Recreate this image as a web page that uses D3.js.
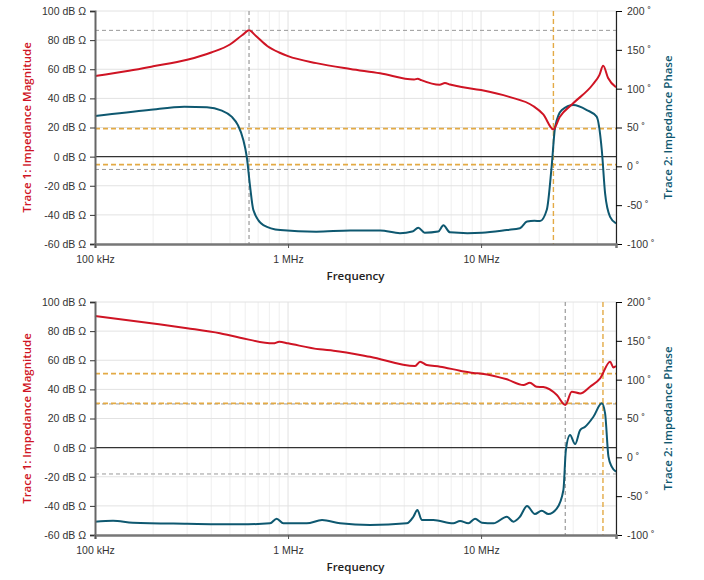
<!DOCTYPE html>
<html lang="en">
<head>
<meta charset="UTF-8">
<title>Impedance plots</title>
<script src="https://cdn.jsdelivr.net/npm/d3@7"></script>
<style>
  body { margin: 0; background: #fff; }
  svg { font-family: "Open Sans", "Noto Sans", sans-serif; }
  .tick text { font-size: 10.5px; fill: #333; }
  .grid line { stroke: #e2e2e2; }
  .grid .minor { stroke: #efefef; }
</style>
</head>
<body>
<svg width="704" height="580"></svg>
<script>

// ---- data (frequency in MHz, magnitude in dB Ohm, phase in degrees) ----

var magTicks = [-60, -40, -20, 0, 20, 40, 60, 80, 100];
var phaseTicks = [-100, -50, 0, 50, 100, 150, 200];
var freqTicks = [0.1, 1, 10];
var freqTickLabels = ["100 kHz", "1 MHz", "10 MHz"];

// top panel
var magTop = [
  [0.1, 55.4], [0.15, 59], [0.2, 62], [0.3, 66.5], [0.4, 71.5], [0.5, 77],
  [0.58, 83.5], [0.628, 86.7], [0.68, 83], [0.78, 76], [0.9, 71.5], [1.0, 69],
  [1.4, 64.2], [2.1, 60.2], [3.0, 57.2], [4.5, 52.9], [4.7, 53.5], [4.9, 52.5],
  [6.1, 49.3], [6.5, 50.6], [6.9, 49.5], [7.8, 48], [10, 45.7], [14, 41],
  [18.6, 34.8], [21, 29], [23.7, 18.7], [25.5, 27], [30, 36.6], [38, 49.7],
  [41, 56], [42.9, 62.4], [45.5, 54], [50, 47.6]
];
var phaseTop = [
  [0.1, 64.8], [0.19, 72.5], [0.29, 76.7], [0.38, 76], [0.45, 72], [0.51, 64],
  [0.55, 53], [0.585, 35], [0.611, 12.4], [0.636, -26], [0.661, -56],
  [0.745, -75.6], [0.91, -82], [1.4, -84.2], [2.1, -82.5], [3.0, -82.5],
  [3.8, -86], [4.4, -84], [4.73, -79], [5.1, -85.5], [6.0, -84], [6.38, -76],
  [6.9, -85], [8.5, -86], [10.1, -85.5], [13.6, -82], [15.9, -79.8],
  [17.3, -71], [18.9, -70], [20.2, -70.5], [21.9, -56], [23.2, -0.5],
  [24.2, 51], [26.2, 72.5], [30.1, 78.9], [35.3, 72.5], [39.7, 63.9],
  [42.2, 21], [43.9, -34.8], [46.6, -65], [50, -73.4]
];
var markTopH = [
  { v: 86.7, c: "grey" }, { v: 19.2, c: "gold" },
  { v: -5.5, c: "gold" }, { v: -8.8, c: "grey" }
];
var markTopV = [ { f: 0.628, c: "grey" }, { f: 23.7, c: "gold" } ];

// bottom panel
var magBottom = [
  [0.1, 90.4], [0.2, 85.2], [0.3, 82], [0.444, 78.5], [0.564, 75.5],
  [0.839, 71.6], [0.901, 72.7], [1.0, 71.6], [1.46, 67.5], [1.72, 66.6],
  [2.66, 62.4], [4.55, 56], [4.83, 59], [5.23, 56.7], [6.13, 55.6],
  [7.78, 52.8], [9.12, 51.3], [10.1, 50.8], [13.6, 46.9], [16.6, 43],
  [17.9, 44.6], [19.4, 41.8], [21.0, 41.6], [24.7, 36.1], [27.3, 29.3],
  [29.5, 38.4], [32.6, 37.2], [36.7, 41.8], [41.4, 47.6], [46.6, 59],
  [48.5, 55.1], [50, 56]
];
var phaseBottom = [
  [0.1, -82.9], [0.124, -81.6], [0.157, -84.2], [0.3, -85.5], [0.564, -86.3],
  [0.807, -85], [0.873, -79], [0.946, -85], [1.25, -85], [1.5, -80.7],
  [1.86, -85], [2.66, -87.2], [4.12, -85], [4.46, -76.5], [4.68, -67.8],
  [4.93, -80.7], [5.66, -80.7], [7.18, -85], [7.78, -82], [8.59, -85],
  [9.31, -79], [10.1, -84.2], [11.6, -85], [13.6, -76.5], [14.7, -82.9],
  [15.9, -76.5], [17.3, -62.7], [19.0, -73], [20.6, -68.7], [22.3, -73],
  [24.7, -65.7], [26.7, -42], [27.5, 9.4], [28.9, 28.7], [30.7, 17.1],
  [32.6, 35.1], [34.6, 39.4], [38.2, 52.3], [42.2, 69.5], [43.9, 56.6],
  [45.7, 0.8], [47.5, -12], [50, -18.5]
];
var markBottomH = [
  { v: 50.8, c: "gold" }, { v: 30.0, c: "grey" },
  { v: 30.4, c: "gold" }, { v: -18.1, c: "grey" }
];
var markBottomV = [ { f: 27.3, c: "grey" }, { f: 42.8, c: "gold" } ];

// ---- drawing ----

var svg = d3.select("svg");
var red = "#cf1424", teal = "#0e5870", gold = "#e3aa45", grey = "#9a9a9a";
var left = 95, right = 616, plotH = 233;

function drawPanel(top, mag, phase, hMarks, vMarks) {
  var g = svg.append("g").attr("transform", "translate(0," + top + ")");

  var x = d3.scaleLog().domain([0.1, 50]).range([left, right]);
  var y = d3.scaleLinear().domain([-60, 100]).range([plotH, 0]);
  var yp = d3.scaleLinear().domain([-100, 200]).range([plotH, 0]);

  // grid
  var grid = g.append("g").attr("class", "grid");
  var minors = [];
  [0.1, 1, 10].forEach(function(d) {
    for (var k = 2; k <= 9; k++) if (d * k <= 50) minors.push(d * k);
  });
  grid.selectAll(".minor").data(minors).enter().append("line")
    .attr("class", "minor")
    .attr("x1", function(d) { return x(d); }).attr("x2", function(d) { return x(d); })
    .attr("y1", 0).attr("y2", plotH);
  grid.selectAll(".major").data([1, 10]).enter().append("line")
    .attr("class", "major")
    .attr("x1", function(d) { return x(d); }).attr("x2", function(d) { return x(d); })
    .attr("y1", 0).attr("y2", plotH);
  grid.selectAll(".hz").data(magTicks.filter(function(d) { return d != 0 && d != -60; }))
    .enter().append("line")
    .attr("x1", left).attr("x2", right)
    .attr("y1", function(d) { return y(d); }).attr("y2", function(d) { return y(d); });

  // zero line
  g.append("line").attr("x1", left).attr("x2", right)
    .attr("y1", y(0)).attr("y2", y(0))
    .attr("stroke", "#333").attr("stroke-width", 1.3);

  // marker lines
  function dash(c) { return c == "gold" ? "5,3" : "4,3"; }
  g.selectAll(".hm").data(hMarks).enter().append("line")
    .attr("x1", left).attr("x2", right)
    .attr("y1", function(d) { return y(d.v); }).attr("y2", function(d) { return y(d.v); })
    .attr("stroke", function(d) { return d.c == "gold" ? gold : grey; })
    .attr("stroke-width", function(d) { return d.c == "gold" ? 1.6 : 1; })
    .attr("stroke-dasharray", function(d) { return dash(d.c); });
  g.selectAll(".vm").data(vMarks).enter().append("line")
    .attr("x1", function(d) { return x(d.f); }).attr("x2", function(d) { return x(d.f); })
    .attr("y1", 0).attr("y2", plotH)
    .attr("stroke", function(d) { return d.c == "gold" ? gold : grey; })
    .attr("stroke-width", function(d) { return d.c == "gold" ? 1.4 : 1.2; })
    .attr("stroke-dasharray", function(d) { return dash(d.c); });

  // traces
  var lineMag = d3.line().curve(d3.curveMonotoneX)
    .x(function(d) { return x(d[0]); }).y(function(d) { return y(d[1]); });
  var linePh = d3.line().curve(d3.curveMonotoneX)
    .x(function(d) { return x(d[0]); }).y(function(d) { return yp(d[1]); });

  g.append("path").datum(phase).attr("d", linePh)
    .attr("fill", "none").attr("stroke", teal).attr("stroke-width", 2);
  g.append("path").datum(mag).attr("d", lineMag)
    .attr("fill", "none").attr("stroke", red).attr("stroke-width", 2);

  // axes
  var ax = g.append("g").attr("class", "axis")
    .call(d3.axisLeft(y).tickValues(magTicks).tickSize(5).tickPadding(4)
      .tickFormat(function(d) { return d + " dB \u03A9"; }))
    .attr("transform", "translate(" + left + ",0)");
  ax.select(".domain").attr("stroke", "#666").attr("stroke-width", 2);
  ax.selectAll(".tick line").attr("stroke", "#333");

  var axr = g.append("g").attr("class", "axis")
    .attr("transform", "translate(" + right + ",0)")
    .call(d3.axisRight(yp).tickValues(phaseTicks).tickSize(6).tickPadding(5)
      .tickFormat(function(d) { return d + " \u02DA"; }));
  axr.select(".domain").attr("stroke", "#222").attr("stroke-width", 1.2);

  var axb = g.append("g").attr("class", "axis")
    .attr("transform", "translate(0," + plotH + ")")
    .call(d3.axisBottom(x).tickValues(freqTicks).tickSize(4).tickPadding(8)
      .tickFormat(function(d, i) { return freqTickLabels[i]; }));
  axb.select(".domain").attr("stroke", "#777").attr("stroke-width", 2.5);
  axb.selectAll(".tick line").attr("stroke", "#555");

  // titles
  g.append("text").attr("x", (left + right) / 2).attr("y", plotH + 36)
    .attr("text-anchor", "middle").attr("font-size", 11.5).attr("font-weight", 600)
    .attr("fill", "#222").text("Frequency");

  g.append("text")
    .attr("transform", "translate(31," + (plotH / 2) + ") rotate(-90)")
    .attr("text-anchor", "middle").attr("font-size", 11.5).attr("font-weight", 600)
    .attr("fill", red).text("Trace 1: Impedance Magnitude");

  g.append("text")
    .attr("transform", "translate(672," + (plotH / 2) + ") rotate(-90)")
    .attr("text-anchor", "middle").attr("font-size", 11.5).attr("font-weight", 600)
    .attr("fill", teal).text("Trace 2: Impedance Phase");
}

drawPanel(11, magTop, phaseTop, markTopH, markTopV);
drawPanel(302, magBottom, phaseBottom, markBottomH, markBottomV);

</script>
</body>
</html>
